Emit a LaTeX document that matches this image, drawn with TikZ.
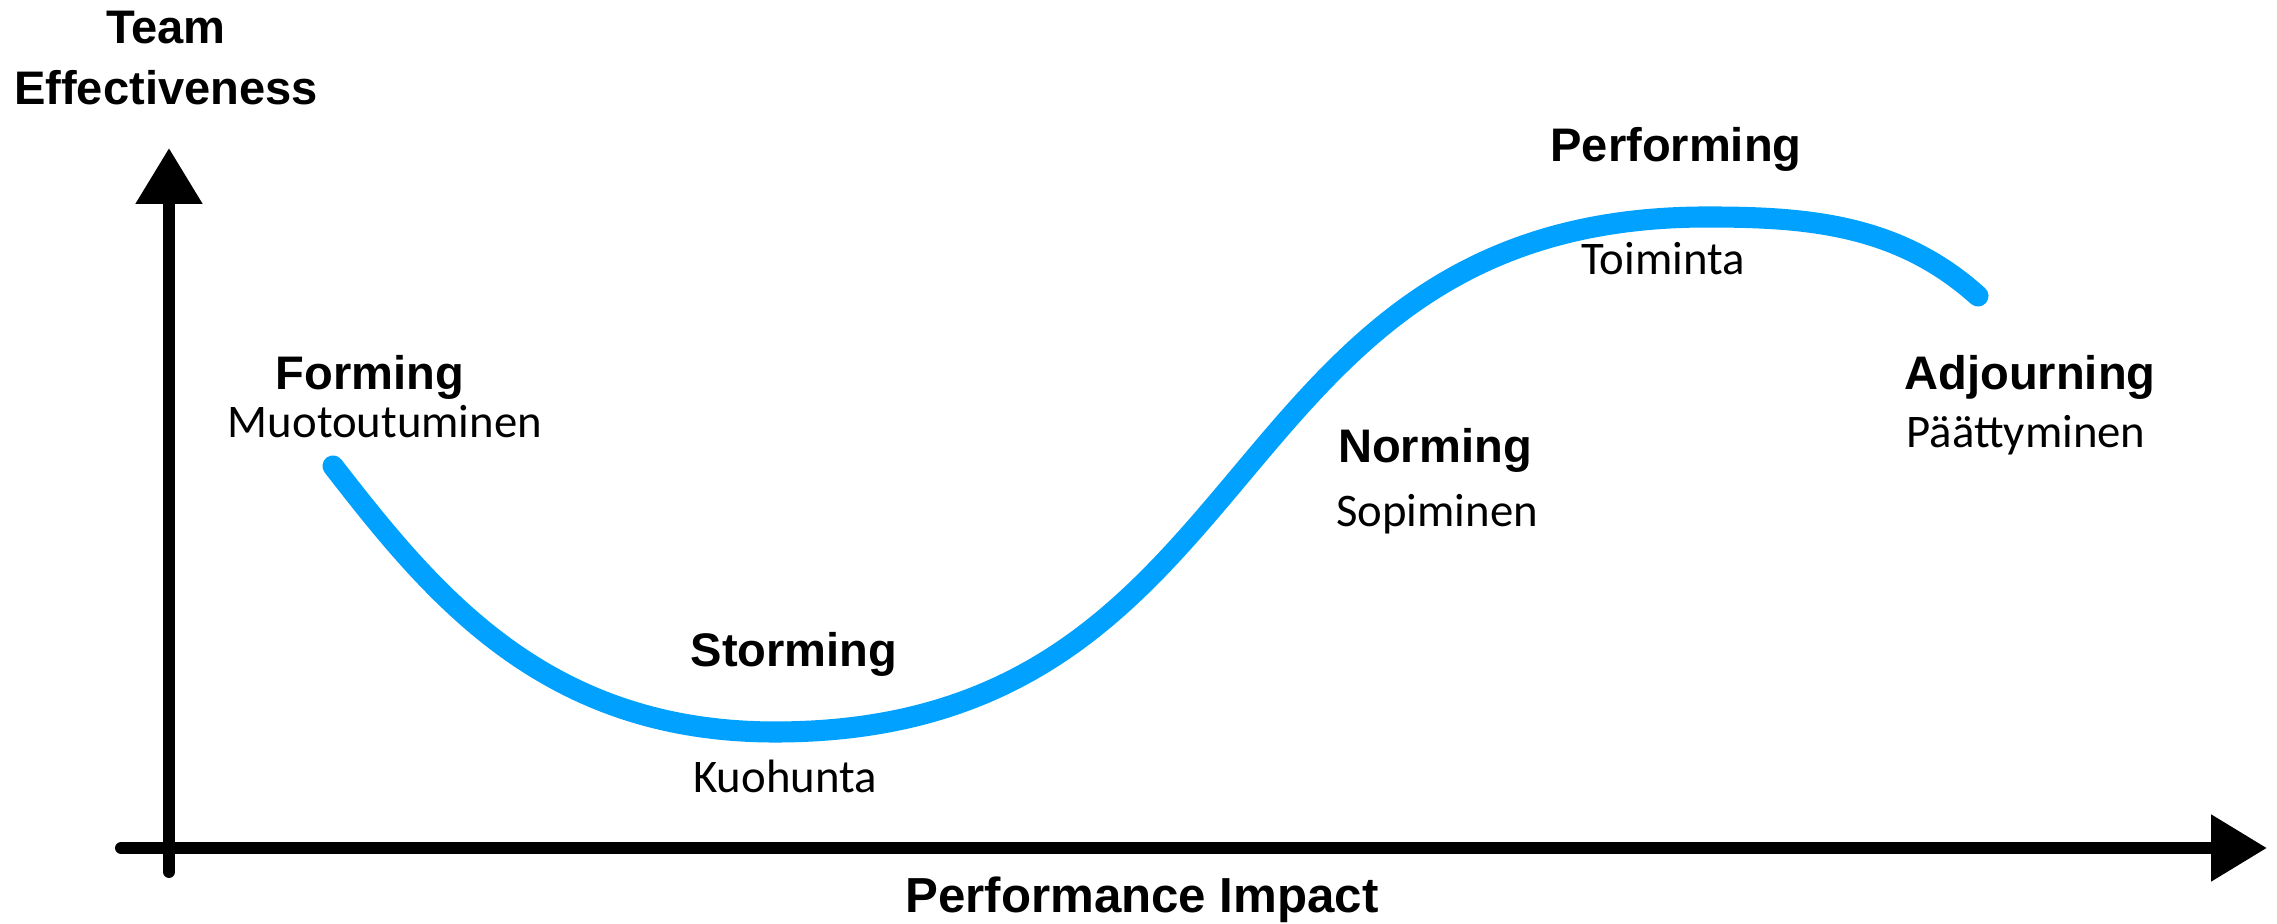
\documentclass[tikz,border=0pt]{standalone}
\usepackage{fontspec}
\setmainfont{Carlito}
\setsansfont{Liberation Sans}
\usepackage{xcolor}
\usetikzlibrary{arrows.meta}

\definecolor{curveblue}{RGB}{0,161,255}

\begin{document}
\begin{tikzpicture}[
    axis/.style={line width=3.4pt, line cap=round, -{Triangle[length=5.6mm, width=6.4mm]}},
    phase/.style={line width=6pt, line cap=round, draw=curveblue},
    stage/.style={inner sep=0pt, anchor=base, font=\sffamily\bfseries\fontsize{13.4}{17.6}\selectfont},
    finnish/.style={inner sep=0pt, anchor=base, font=\fontsize{13.3}{16}\selectfont}
]

    \useasboundingbox (0,0) rectangle (22.77,9.24);

    % axes
    \coordinate (ybot) at (1.69,0.52);
    \coordinate (ytop) at (1.69,7.76);
    \coordinate (xleft) at (1.21,0.76);
    \coordinate (xright) at (22.67,0.76);
    \draw[axis] (ybot) -- (ytop);
    \draw[axis] (xleft) -- (xright);

    \node[stage, anchor=north, align=center] (ylab) at (1.66,9.14) {Team\\Effectiveness};
    \node[stage, font=\sffamily\bfseries\fontsize{14}{16}\selectfont] (xlab) at (11.42,0.11) {Performance Impact};

    % the team development curve
    \coordinate (start) at (3.33,4.58);
    \coordinate (low) at (7.75,1.92);
    \coordinate (high) at (17.07,7.07);
    \coordinate (stop) at (19.78,6.28);
    \draw[phase] (start) .. controls (4.33,3.29) and (5.45,1.92) .. (low)
        .. controls (12.75,1.92) and (12.07,7.07) .. (high)
        .. controls (18.07,7.07) and (18.98,7.00) .. (stop);

    % stages
    \node[stage] (form) at (3.70,5.34) {Forming};
    \node[finnish] (formfi) at (3.85,4.86) {Muotoutuminen};
    \node[stage] (storm) at (7.94,2.57) {Storming};
    \node[finnish] (stormfi) at (7.85,1.31) {Kuohunta};
    \node[stage] (norm) at (14.35,4.61) {Norming};
    \node[finnish] (normfi) at (14.37,3.97) {Sopiminen};
    \node[stage] (perf) at (16.76,7.62) {Performing};
    \node[finnish] (perffi) at (16.63,6.49) {Toiminta};
    \node[stage] (adj) at (20.30,5.34) {Adjourning};
    \node[finnish] (adjfi) at (20.26,4.76) {Päättyminen};

\end{tikzpicture}
\end{document}
